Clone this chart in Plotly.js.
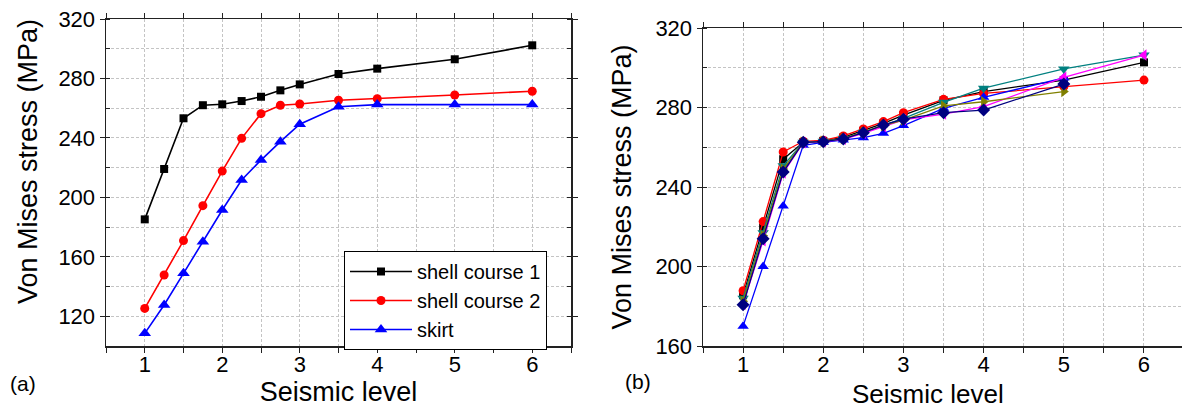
<!DOCTYPE html>
<html>
<head>
<meta charset="utf-8">
<script src="https://cdn.plot.ly/plotly-3.0.1.min.js"></script>
<style>html,body{margin:0;padding:0;background:#fff;}#chart{width:1182px;height:410px;}</style>
</head>
<body>
<div id="chart"></div>
<script>
// ---- data ----
const levels = [1, 1.25, 1.5, 1.75, 2, 2.25, 2.5, 2.75, 3, 3.5, 4, 5, 6];
const levelsTo5 = [1, 1.25, 1.5, 1.75, 2, 2.25, 2.5, 2.75, 3, 3.5, 4, 5];

// panel (a)
const seriesNamesA = ["shell course 1", "shell course 2", "skirt"];
const shellCourse1 = [185.2, 219.1, 253.2, 262.0, 262.6, 264.8, 267.7, 272.0, 276.0, 283.0, 286.6, 292.9, 302.3];
const shellCourse2 = [125.3, 147.8, 170.9, 194.4, 217.7, 239.7, 256.3, 262.0, 262.8, 265.3, 266.4, 268.9, 271.4];
const skirt        = [108.5, 127.6, 148.9, 170.2, 191.5, 211.7, 225.1, 237.5, 249.2, 261.0, 262.4, 262.4, 262.4];

// panel (b)
const bBlack   = [185.5, 219.5, 254.0, 262.5, 263.2, 265.0, 268.3, 272.0, 276.2, 283.6, 288.0, 293.8, 302.7];
const bRed     = [187.8, 222.6, 257.6, 263.0, 263.5, 265.7, 269.2, 272.9, 277.4, 284.1, 287.1, 290.5, 293.8];
const bBlue    = [170.0, 200.0, 230.5, 261.0, 262.5, 263.6, 264.8, 267.0, 270.9, 279.6, 285.1, 294.9];
const bTeal    = [184.0, 217.0, 250.7, 262.5, 263.0, 264.5, 267.5, 271.0, 274.5, 282.6, 289.7, 299.4, 306.4];
const bMagenta = [181.0, 213.0, 247.0, 262.3, 262.8, 264.0, 267.0, 270.5, 273.8, 276.7, 280.4, 295.2, 306.4];
const bOlive   = [182.5, 215.5, 249.0, 262.5, 263.0, 264.3, 267.5, 271.0, 273.7, 280.8, 282.9, 288.0];
const bNavy    = [180.8, 214.0, 247.5, 262.5, 262.8, 264.2, 267.3, 271.2, 274.1, 277.4, 278.7, 291.8];

const xTickVals = [1, 2, 3, 4, 5, 6];
const yTickValsA = [120, 160, 200, 240, 280, 320];
const yTickValsB = [160, 200, 240, 280, 320];

// ---- styling ----
const FONT = "Liberation Sans, Arial, Helvetica, sans-serif";
const W = 1182, H = 410;
const px = v => v / W;
const py = v => (H - v) / H;
const gridCol = "#c4c4c4";
const axCol = "#222";

function tr(x, y, name, color, symbol, size, xa, ya, show, lw) {
  return {
    x: x, y: y, name: name, type: "scatter", mode: "lines+markers",
    xaxis: xa, yaxis: ya, showlegend: show,
    line: {color: color, width: lw},
    marker: {color: color, symbol: symbol, size: size, line: {width: 0}}
  };
}

const data = [
  tr(levels, shellCourse1, seriesNamesA[0], "#000000", "square", 8, "x", "y", true, 1.6),
  tr(levels, shellCourse2, seriesNamesA[1], "#ff0000", "circle", 9, "x", "y", true, 1.6),
  tr(levels, skirt, seriesNamesA[2], "#0000ff", "triangle-up", 11, "x", "y", true, 1.6),

  tr(levels, bBlack, "b1", "#000000", "square", 8, "x2", "y2", false, 1.3),
  tr(levels, bRed, "b2", "#ff0000", "circle", 9, "x2", "y2", false, 1.3),
  tr(levelsTo5, bBlue, "b3", "#0000ff", "triangle-up", 10, "x2", "y2", false, 1.3),
  tr(levels, bTeal, "b4", "#008080", "triangle-down", 10, "x2", "y2", false, 1.3),
  tr(levels, bMagenta, "b5", "#ff00ff", "triangle-left", 10, "x2", "y2", false, 1.3),
  tr(levelsTo5, bOlive, "b6", "#808000", "triangle-right", 10, "x2", "y2", false, 1.3),
  tr(levelsTo5, bNavy, "b7", "#000080", "diamond", 10, "x2", "y2", false, 1.3)
];

const tickFont = {family: FONT, size: 22, color: "#000"};

function xMain(domain, range, anchor, titleObj) {
  return {
    domain: domain, range: range, anchor: anchor,
    tickvals: xTickVals, ticks: "outside", ticklen: 5, tickwidth: 1, tickcolor: axCol,
    ticklabelstandoff: -7,
    minor: {dtick: 0.5, tick0: 0.5, ticks: "outside", ticklen: 5, showgrid: true,
            gridcolor: gridCol, griddash: "3px,2px", gridwidth: 1},
    showgrid: true, gridcolor: gridCol, griddash: "3px,2px", gridwidth: 1,
    showline: true, linecolor: axCol, linewidth: 1.5, zeroline: false, mirror: "allticks",
    tickfont: tickFont, automargin: false, title: titleObj
  };
}
function yMain(domain, range, tickvals, anchor, mirror, titleObj) {
  return {
    domain: domain, range: range, anchor: anchor,
    tickvals: tickvals, ticks: "outside", ticklen: 5, tickwidth: 1, tickcolor: axCol,
    minor: {dtick: 20, tick0: 0, ticks: "inside", ticklen: 4, showgrid: true,
            gridcolor: gridCol, griddash: "3px,2px", gridwidth: 1},
    showgrid: true, gridcolor: gridCol, griddash: "3px,2px", gridwidth: 1,
    showline: true, linecolor: axCol, linewidth: 1.5, zeroline: false, mirror: mirror,
    tickfont: tickFont, automargin: false, title: titleObj
  };
}

const domAx = [px(106), px(571)];
const domAy = [py(346), py(19)];
const domBx = [px(703), 1];
const domBy = [py(346), py(28)];
const rangeA = [0.5, 6.5];
const rangeB = [0.5, 6.474];

const layout = {
  width: W, height: H,
  margin: {l: 0, r: 0, t: 0, b: 0, pad: 0},
  paper_bgcolor: "#fff", plot_bgcolor: "#fff",
  font: {family: FONT, color: "#000"},
  xaxis: xMain(domAx, rangeA, "y", {text: "Seismic level", font: {family: FONT, size: 27}, standoff: 5}),
  yaxis: yMain(domAy, [100, 320], yTickValsA, "x", "allticks", {text: ""}),
  xaxis2: xMain(domBx, rangeB, "y2", {text: ""}),
  yaxis2: yMain(domBy, [160, 320], yTickValsB, "x2", false,
                {text: "Von Mises stress (MPa)", font: {family: FONT, size: 27}, standoff: 16}),
  showlegend: true,
  legend: {
    x: px(344), y: py(251), xanchor: "left", yanchor: "top",
    bgcolor: "#fff", bordercolor: "#000", borderwidth: 1,
    font: {family: FONT, size: 20, color: "#000"},
    tracegroupgap: 0, itemwidth: 62, entrywidth: 192, entrywidthmode: "pixels"
  },
  annotations: [
    {text: "Von Mises stress (MPa)", textangle: -90, xref: "paper", yref: "paper",
     x: px(28), y: py(162), xanchor: "center", yanchor: "middle", showarrow: false,
     font: {family: FONT, size: 27, color: "#000"}},
    {text: "Seismic level", xref: "paper", yref: "paper",
     x: px(928), y: py(394), xanchor: "center", yanchor: "middle", showarrow: false,
     font: {family: FONT, size: 26, color: "#000"}},
    {text: "(a)", xref: "paper", yref: "paper", x: px(23), y: py(383),
     xanchor: "center", yanchor: "middle", showarrow: false,
     font: {family: FONT, size: 21, color: "#000"}},
    {text: "(b)", xref: "paper", yref: "paper", x: px(638), y: py(381),
     xanchor: "center", yanchor: "middle", showarrow: false,
     font: {family: FONT, size: 21, color: "#000"}}
  ]
};

Plotly.newPlot("chart", data, layout, {staticPlot: true, displayModeBar: false});
</script>
</body>
</html>
